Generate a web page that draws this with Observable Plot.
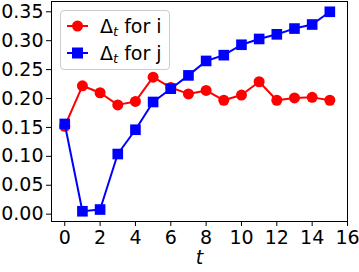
<!DOCTYPE html>
<html>
<head>
<meta charset="utf-8">
<script src="https://cdn.jsdelivr.net/npm/d3@7"></script>
<script src="https://cdn.jsdelivr.net/npm/@observablehq/plot@0.6"></script>
<style>
  html, body { margin: 0; padding: 0; background: white; }
  #wrap { position: relative; width: 359px; height: 272px; font-family: "DejaVu Sans", sans-serif; }
  #legend { position: absolute; left: 60px; top: 10px; width: 110px; height: 60px;
    border: 1px solid #cccccc; border-radius: 4px; background: rgba(255,255,255,0.8); box-sizing: border-box; }
  .item { position: absolute; left: 0; height: 26px; display: flex; align-items: center; font-size: 19px; white-space: nowrap; }
  .item svg { margin-left: 6px; margin-right: 12px; }
  sub { font-style: italic; font-size: 13px; vertical-align: -3px; line-height: 0; }
</style>
</head>
<body>
<div id="wrap"></div>
<script>
const t = [0,1,2,3,4,5,6,7,8,9,10,11,12,13,14,15];
const deltaI = [0.152,0.222,0.210,0.189,0.195,0.237,0.219,0.208,0.214,0.197,0.206,0.229,0.197,0.201,0.202,0.197];
const deltaJ = [0.156,0.005,0.008,0.104,0.146,0.194,0.217,0.240,0.265,0.275,0.293,0.303,0.311,0.321,0.328,0.350];
const xTicks = [0,2,4,6,8,10,12,14,16];
const yTicks = [0,0.05,0.10,0.15,0.20,0.25,0.30,0.35];
const seriesNames = ["for i", "for j"];

const rows = t.map((d, k) => ({t: d, i: deltaI[k], j: deltaJ[k]}));

const chart = Plot.plot({
  width: 359, height: 272,
  marginLeft: 51, marginRight: 12, marginTop: 1, marginBottom: 51,
  style: {fontFamily: "DejaVu Sans", fontSize: "19px", background: "white", color: "black", overflow: "visible"},
  x: {domain: [-0.75, 16]},
  y: {domain: [-0.0127, 0.3678]},
  marks: [
    Plot.axisX({ticks: xTicks, tickSize: 5, tickPadding: 4, label: null, stroke: "black"}),
    Plot.axisY({ticks: yTicks, tickFormat: d3.format(".2f"), tickSize: 5, tickPadding: 3, label: null, stroke: "black"}),
    Plot.line(rows, {x: "t", y: "i", stroke: "#ff0000", strokeWidth: 2}),
    Plot.dot(rows, {x: "t", y: "i", r: 5.5, fill: "#ff0000", stroke: "none"}),
    Plot.line(rows, {x: "t", y: "j", stroke: "#0000ff", strokeWidth: 2}),
    Plot.dot(rows, {x: "t", y: "j", r: 6, symbol: "square", fill: "#0000ff", stroke: "none"}),
    Plot.frame({stroke: "black", strokeWidth: 1}),
    Plot.text(["t"], {frameAnchor: "bottom", dy: 42, fontStyle: "italic", fontSize: 19, fill: "black"})
  ]
});
const wrap = document.getElementById("wrap");
wrap.appendChild(chart);

const legend = document.createElement("div");
legend.id = "legend";
const colors = ["#ff0000", "#0000ff"];
const shapes = ["circle", "square"];
seriesNames.forEach((name, k) => {
  const it = document.createElement("div");
  it.className = "item";
  it.style.top = (2 + k * 27) + "px";
  const mk = shapes[k] === "circle"
    ? `<circle cx="10.5" cy="6" r="5.5" fill="${colors[k]}"/>`
    : `<rect x="5" y="0.5" width="11" height="11" fill="${colors[k]}"/>`;
  it.innerHTML = `<svg width="21" height="12"><line x1="0" x2="21" y1="6" y2="6" stroke="${colors[k]}" stroke-width="2"/>${mk}</svg><span>Δ<sub>t</sub> ${name}</span>`;
  legend.appendChild(it);
});
wrap.appendChild(legend);
</script>
</body>
</html>
